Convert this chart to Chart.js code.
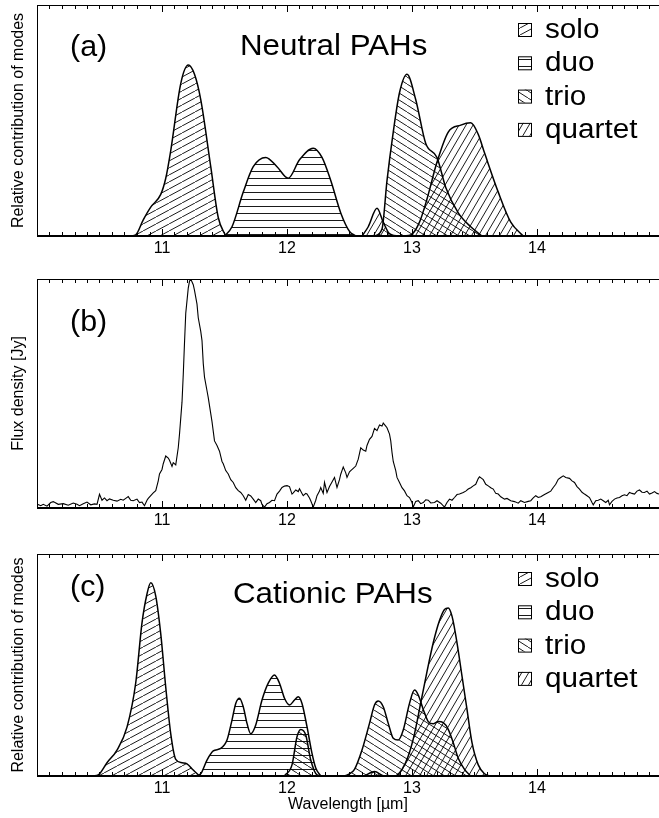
<!DOCTYPE html>
<html>
<head>
<meta charset="utf-8">
<script src="https://cdn.jsdelivr.net/npm/chart.js@4.4.1/dist/chart.umd.min.js"></script>
<style>
html, body { margin: 0; padding: 0; background: #fff; }
#wrap { position: relative; width: 659px; height: 818px; }
canvas { position: absolute; left: 0; }
</style>
</head>
<body>
<div id="wrap">
  <canvas id="panelA" width="659" height="262" style="top:0px"></canvas>
  <canvas id="panelB" width="659" height="273" style="top:262px"></canvas>
  <canvas id="panelC" width="659" height="283" style="top:535px"></canvas>
</div>
<script>
// ---- data: [wavelength (um), relative value] ----
const tickLabels = [11, 12, 13, 14];
const modeNames = ['solo', 'duo', 'trio', 'quartet'];

// (a) neutral PAHs
const soloA = [[10.75,0],[10.79,0.005],[10.85,0.07],[10.91,0.125],[10.99,0.18],[11.03,0.25],[11.07,0.37],[11.15,0.66],[11.21,0.74],[11.26,0.70],[11.31,0.59],[11.39,0.30],[11.45,0.08],[11.51,0]];
const duoA = [[11.50,0],[11.56,0.04],[11.65,0.19],[11.73,0.30],[11.83,0.34],[11.92,0.30],[12.01,0.25],[12.10,0.33],[12.21,0.38],[12.28,0.34],[12.35,0.24],[12.43,0.10],[12.50,0.02],[12.55,0]];
const trioA = [[12.70,0],[12.76,0.03],[12.80,0.24],[12.85,0.45],[12.90,0.62],[12.96,0.70],[13.03,0.59],[13.11,0.40],[13.20,0.34],[13.27,0.21],[13.37,0.10],[13.47,0.04],[13.56,0]];
const quartetA = [[12.60,0],[12.65,0.04],[12.72,0.12],[12.77,0.06],[12.82,0.01],[12.90,0],[12.99,0.005],[13.06,0.06],[13.12,0.16],[13.20,0.32],[13.29,0.45],[13.39,0.48],[13.47,0.49],[13.53,0.44],[13.58,0.36],[13.69,0.19],[13.79,0.06],[13.89,0]];

// (b) observed spectrum, flux density (arbitrary units)
const spectrum = [[10.00,0.013],[10.03,0.006],[10.05,0.012],[10.08,0.004],[10.11,0.02],[10.13,0.024],[10.17,0.012],[10.21,0.015],[10.25,0.008],[10.29,0.018],[10.32,0.012],[10.34,0.006],[10.37,0.015],[10.40,0.022],[10.43,0.01],[10.46,0.014],[10.48,0.012],[10.50,0.056],[10.52,0.03],[10.54,0.04],[10.56,0.028],[10.58,0.036],[10.61,0.03],[10.64,0.026],[10.67,0.034],[10.69,0.03],[10.71,0.038],[10.73,0.046],[10.75,0.03],[10.77,0.028],[10.80,0.035],[10.82,0.02],[10.84,0.022],[10.86,0.006],[10.88,0.03],[10.89,0.038],[10.91,0.05],[10.93,0.062],[10.95,0.072],[10.97,0.115],[10.98,0.145],[11.00,0.165],[11.01,0.19],[11.03,0.224],[11.05,0.215],[11.06,0.205],[11.08,0.178],[11.09,0.195],[11.11,0.185],[11.13,0.26],[11.14,0.32],[11.16,0.46],[11.17,0.58],[11.18,0.72],[11.19,0.85],[11.21,0.96],[11.22,0.99],[11.23,1.0],[11.25,0.975],[11.26,0.95],[11.28,0.89],[11.29,0.83],[11.31,0.77],[11.32,0.73],[11.33,0.63],[11.34,0.57],[11.36,0.51],[11.37,0.48],[11.39,0.41],[11.40,0.375],[11.42,0.29],[11.44,0.27],[11.46,0.245],[11.48,0.2],[11.49,0.19],[11.51,0.16],[11.53,0.145],[11.55,0.12],[11.57,0.108],[11.59,0.085],[11.61,0.072],[11.63,0.064],[11.65,0.05],[11.67,0.03],[11.69,0.055],[11.71,0.049],[11.73,0.035],[11.75,0.02],[11.77,0.035],[11.79,0.028],[11.80,0.012],[11.82,0.0],[11.84,0.015],[11.86,0.02],[11.88,0.03],[11.90,0.028],[11.92,0.057],[11.94,0.07],[11.96,0.086],[11.98,0.092],[12.00,0.094],[12.02,0.09],[12.04,0.057],[12.05,0.062],[12.07,0.075],[12.09,0.068],[12.10,0.08],[12.12,0.06],[12.13,0.05],[12.15,0.06],[12.16,0.058],[12.18,0.04],[12.19,0.028],[12.21,0.0],[12.23,0.03],[12.24,0.05],[12.26,0.07],[12.27,0.086],[12.29,0.06],[12.30,0.108],[12.32,0.064],[12.34,0.09],[12.35,0.10],[12.37,0.12],[12.38,0.13],[12.40,0.086],[12.42,0.12],[12.43,0.144],[12.45,0.176],[12.47,0.15],[12.48,0.13],[12.50,0.155],[12.51,0.16],[12.53,0.17],[12.55,0.18],[12.57,0.21],[12.59,0.26],[12.61,0.25],[12.63,0.245],[12.64,0.27],[12.66,0.297],[12.68,0.31],[12.70,0.345],[12.72,0.335],[12.74,0.36],[12.76,0.355],[12.77,0.368],[12.79,0.355],[12.80,0.348],[12.82,0.32],[12.83,0.29],[12.84,0.24],[12.85,0.20],[12.87,0.16],[12.88,0.13],[12.90,0.108],[12.92,0.085],[12.94,0.071],[12.96,0.05],[12.98,0.042],[13.00,0.02],[13.01,0.0],[13.03,0.025],[13.05,0.028],[13.07,0.015],[13.09,0.02],[13.11,0.032],[13.13,0.03],[13.15,0.018],[13.18,0.02],[13.20,0.028],[13.23,0.017],[13.26,0.0],[13.28,0.02],[13.30,0.035],[13.32,0.03],[13.34,0.042],[13.36,0.055],[13.38,0.057],[13.41,0.064],[13.43,0.07],[13.45,0.079],[13.47,0.085],[13.49,0.093],[13.51,0.10],[13.53,0.125],[13.54,0.133],[13.56,0.125],[13.57,0.12],[13.59,0.1],[13.61,0.093],[13.63,0.085],[13.65,0.079],[13.67,0.06],[13.69,0.057],[13.71,0.045],[13.74,0.035],[13.76,0.038],[13.79,0.028],[13.82,0.024],[13.85,0.017],[13.87,0.028],[13.90,0.02],[13.93,0.025],[13.95,0.028],[13.97,0.04],[13.99,0.05],[14.01,0.042],[14.03,0.045],[14.06,0.055],[14.09,0.064],[14.11,0.07],[14.13,0.086],[14.15,0.1],[14.17,0.122],[14.19,0.13],[14.21,0.137],[14.23,0.13],[14.26,0.126],[14.28,0.115],[14.30,0.108],[14.32,0.09],[14.34,0.079],[14.36,0.065],[14.38,0.057],[14.40,0.05],[14.42,0.042],[14.44,0.02],[14.45,0.01],[14.47,0.028],[14.49,0.03],[14.51,0.035],[14.53,0.028],[14.55,0.02],[14.57,0.03],[14.58,0.01],[14.60,0.025],[14.62,0.035],[14.64,0.04],[14.66,0.042],[14.68,0.05],[14.70,0.054],[14.72,0.05],[14.74,0.064],[14.76,0.06],[14.78,0.057],[14.80,0.07],[14.82,0.075],[14.84,0.065],[14.86,0.064],[14.88,0.07],[14.90,0.057],[14.92,0.062],[14.94,0.068],[14.96,0.06],[14.98,0.057]];

// (c) cationic PAHs
const soloC = [[10.45,0],[10.49,0.005],[10.56,0.06],[10.64,0.117],[10.72,0.22],[10.79,0.42],[10.84,0.69],[10.88,0.82],[10.91,0.87],[10.95,0.81],[10.99,0.64],[11.03,0.40],[11.07,0.19],[11.11,0.075],[11.16,0.06],[11.20,0.055],[11.25,0.027],[11.30,0]];
const duoC = [[11.27,0],[11.31,0.01],[11.36,0.072],[11.41,0.113],[11.47,0.124],[11.52,0.162],[11.56,0.252],[11.59,0.327],[11.62,0.35],[11.65,0.312],[11.68,0.237],[11.71,0.19],[11.75,0.23],[11.80,0.342],[11.85,0.418],[11.90,0.455],[11.94,0.418],[11.98,0.35],[12.02,0.32],[12.06,0.342],[12.09,0.357],[12.12,0.327],[12.16,0.222],[12.20,0.102],[12.23,0.036],[12.27,0]];
const trioC = [[11.98,0],[12.04,0.05],[12.08,0.177],[12.11,0.21],[12.15,0.185],[12.19,0.072],[12.24,0.005],[12.28,0],[12.45,0],[12.50,0.01],[12.54,0.03],[12.60,0.117],[12.66,0.237],[12.70,0.32],[12.73,0.338],[12.77,0.312],[12.81,0.237],[12.85,0.17],[12.89,0.162],[12.93,0.207],[12.98,0.327],[13.02,0.387],[13.05,0.365],[13.09,0.30],[13.13,0.245],[13.17,0.235],[13.21,0.245],[13.25,0.24],[13.29,0.21],[13.33,0.15],[13.37,0.08],[13.42,0.03],[13.47,0]];
const quartetC = [[12.62,0],[12.70,0.02],[12.78,0],[12.86,0],[12.92,0.03],[12.97,0.09],[13.02,0.19],[13.07,0.33],[13.12,0.47],[13.17,0.6],[13.22,0.7],[13.26,0.75],[13.29,0.757],[13.32,0.72],[13.36,0.6],[13.40,0.45],[13.44,0.3],[13.48,0.15],[13.53,0.05],[13.58,0.01],[13.62,0]];

const FONT = "'Liberation Sans', Arial, Helvetica, sans-serif";

// hatch fills for the four CH out-of-plane modes
function makeHatch(kind) {
    const c = document.createElement('canvas');
    const size = { solo: [13, 7], duo: [8, 7], trio: [11, 7], quartet: [7, 12] }[kind];
    const w = size[0], h = size[1];
    c.width = w; c.height = h;
    const g = c.getContext('2d');
    g.strokeStyle = '#000';
    g.lineWidth = 0.9;
    g.beginPath();
    if (kind === 'duo') {
        g.moveTo(0, 3.5); g.lineTo(w, 3.5);
    } else if (kind === 'trio') {
        for (const dx of [-w, 0, w]) { g.moveTo(dx, 0); g.lineTo(dx + w, h); }
    } else {
        for (const dx of [-w, 0, w]) { g.moveTo(dx, h); g.lineTo(dx + w, 0); }
    }
    g.stroke();
    return g.createPattern(c, 'repeat');
}
const hatches = {};
modeNames.forEach(m => { hatches[m] = makeHatch(m); });

function toXY(pairs) {
    return pairs.map(p => ({ x: p[0], y: p[1] }));
}

function modeSet(name, pairs) {
    return {
        label: name,
        data: toXY(pairs),
        borderColor: '#000',
        borderWidth: 1.5,
        backgroundColor: hatches[name],
        fill: 'origin',
        pointRadius: 0,
        cubicInterpolationMode: 'monotone'
    };
}

function stretchedText(ctx, text, x, y, size, sx) {
    ctx.save();
    ctx.font = size + 'px ' + FONT;
    ctx.fillStyle = '#000';
    ctx.textAlign = 'left';
    ctx.textBaseline = 'alphabetic';
    ctx.translate(x, y);
    ctx.scale(sx, 1);
    ctx.fillText(text, 0, 0);
    ctx.restore();
}

// frame, inward ticks, panel label, title and legend
const panelDecor = {
    id: 'panelDecor',
    afterDraw(chart, args, opts) {
        const ctx = chart.ctx;
        const a = chart.chartArea;
        const xs = chart.scales.x;
        ctx.save();
        ctx.strokeStyle = '#000';
        ctx.lineWidth = 1;
        ctx.beginPath();
        for (let i = 100; i < 150; i++) {
            const v = i / 10;
            const px = Math.round(xs.getPixelForValue(v)) + 0.5;
            const len = (i % 10 === 0) ? 7 : 4;
            ctx.moveTo(px, a.bottom); ctx.lineTo(px, a.bottom - len);
            ctx.moveTo(px, a.top); ctx.lineTo(px, a.top + len);
        }
        ctx.moveTo(a.left, a.top + 0.5); ctx.lineTo(a.right, a.top + 0.5);
        ctx.moveTo(a.left + 0.5, a.top); ctx.lineTo(a.left + 0.5, a.bottom);
        ctx.stroke();
        ctx.lineWidth = 2;
        ctx.beginPath();
        ctx.moveTo(a.left, a.bottom); ctx.lineTo(a.right, a.bottom);
        ctx.stroke();
        ctx.restore();

        stretchedText(ctx, opts.label, 70, a.top + opts.labelY, 29, 1.05);
        if (opts.title) {
            stretchedText(ctx, opts.title, opts.titleX, a.top + opts.titleY, 29, 1.08);
        }
        if (opts.legend) {
            modeNames.forEach((m, i) => {
                const base = a.top + 33 + i * 33.3;
                ctx.save();
                ctx.fillStyle = hatches[m];
                ctx.fillRect(518, base - 15, 13, 13);
                ctx.strokeStyle = '#000';
                ctx.lineWidth = 1;
                ctx.strokeRect(518.5, base - 14.5, 13, 13);
                ctx.restore();
                stretchedText(ctx, m, 545, base, 27, 1.1);
            });
        }
    }
};

function panelChart(id, datasets, cfg) {
    return new Chart(document.getElementById(id), {
        type: 'line',
        data: { datasets: datasets },
        options: {
            responsive: false,
            animation: false,
            events: [],
            layout: { padding: { top: cfg.padTop, right: 0, bottom: 0, left: 0 } },
            plugins: {
                legend: { display: false },
                tooltip: { enabled: false },
                panelDecor: cfg.decor
            },
            scales: {
                x: {
                    type: 'linear',
                    min: 10,
                    max: 14.976,
                    afterFit: s => { s.height = cfg.axisH; },
                    afterBuildTicks: s => { s.ticks = tickLabels.map(v => ({ value: v })); },
                    grid: { display: false, drawTicks: false },
                    border: { display: false },
                    ticks: { color: '#000', font: { family: FONT, size: 16 }, padding: 3, maxRotation: 0, autoSkip: false },
                    title: {
                        display: !!cfg.xTitle,
                        text: cfg.xTitle || '',
                        color: '#000',
                        font: { family: FONT, size: 16 },
                        padding: { top: 0, bottom: 4 }
                    }
                },
                y: {
                    min: cfg.yMin,
                    max: cfg.yMax,
                    afterFit: s => { s.width = 37; },
                    ticks: { display: false },
                    grid: { display: false },
                    border: { display: false },
                    title: {
                        display: true,
                        text: cfg.yTitle,
                        color: '#000',
                        font: { family: FONT, size: 16 },
                        padding: { top: 9, bottom: 0 }
                    }
                }
            }
        },
        plugins: [panelDecor]
    });
}

panelChart('panelA',
    [modeSet('solo', soloA), modeSet('duo', duoA), modeSet('trio', trioA), modeSet('quartet', quartetA)],
    {
        padTop: 5, axisH: 26, yMin: 0, yMax: 1,
        yTitle: 'Relative contribution of modes',
        decor: { label: '(a)', labelY: 51, title: 'Neutral PAHs', titleX: 240, titleY: 50, legend: true }
    });

panelChart('panelB',
    [{
        label: 'spectrum',
        data: toXY(spectrum),
        borderColor: '#000',
        borderWidth: 1.1,
        fill: false,
        pointRadius: 0,
        tension: 0
    }],
    {
        padTop: 17, axisH: 27, yMin: -0.004, yMax: 1,
        yTitle: 'Flux density [Jy]',
        decor: { label: '(b)', labelY: 52, legend: false }
    });

panelChart('panelC',
    [modeSet('solo', soloC), modeSet('duo', duoC), modeSet('trio', trioC), modeSet('quartet', quartetC)],
    {
        padTop: 19, axisH: 42, yMin: 0, yMax: 1,
        yTitle: 'Relative contribution of modes',
        xTitle: 'Wavelength [\u00b5m]',
        decor: { label: '(c)', labelY: 42, title: 'Cationic PAHs', titleX: 233, titleY: 49, legend: true }
    });
</script>
</body>
</html>
